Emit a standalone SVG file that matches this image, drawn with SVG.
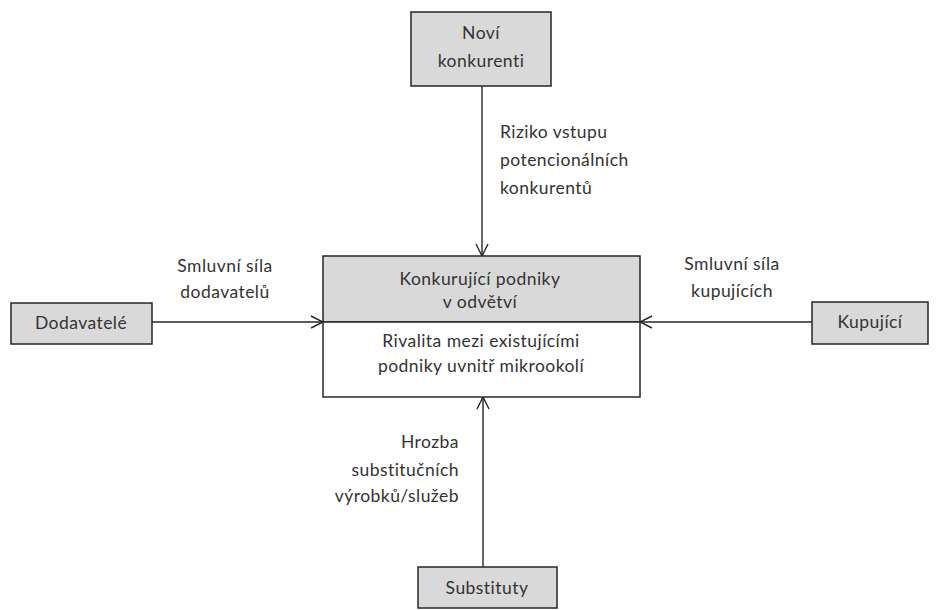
<svg xmlns="http://www.w3.org/2000/svg" width="940" height="610" viewBox="0 0 940 610">
<style>
.box{fill:#d9d9d9;stroke:#262626;stroke-width:1.5}
.wbox{fill:#ffffff;stroke:#262626;stroke-width:1.5}
.t{font-family:Lato,"Open Sans","Liberation Sans",sans-serif;font-size:17.5px;fill:#333333;letter-spacing:0.45px}
.c{text-anchor:middle}
.r{text-anchor:end}
.ln{stroke:#262626;stroke-width:1.4;fill:none}
</style>
<defs>
<marker id="ah" viewBox="0 0 14 14" refX="13" refY="7" markerWidth="14" markerHeight="14" markerUnits="userSpaceOnUse" orient="auto">
<path d="M1,1 L13,7 L1,13" fill="none" stroke="#262626" stroke-width="1.4"/>
</marker>
</defs>
<rect width="940" height="610" fill="#ffffff"/>
<g id="connectors">
<line class="ln" x1="482" y1="86" x2="482" y2="256" marker-end="url(#ah)"/>
<line class="ln" x1="152" y1="322" x2="323" y2="322" marker-end="url(#ah)"/>
<line class="ln" x1="812" y1="322" x2="640" y2="322" marker-end="url(#ah)"/>
<line class="ln" x1="483" y1="567" x2="483" y2="397" marker-end="url(#ah)"/>
<text class="t" x="500" y="138">Riziko vstupu</text>
<text class="t" x="500" y="166">potencionálních</text>
<text class="t" x="500" y="194">konkurentů</text>
<text class="t c" x="225" y="272">Smluvní síla</text>
<text class="t c" x="225" y="298">dodavatelů</text>
<text class="t c" x="732" y="270">Smluvní síla</text>
<text class="t c" x="732" y="297">kupujících</text>
<text class="t r" x="459" y="448">Hrozba</text>
<text class="t r" x="459" y="476">substitučních</text>
<text class="t r" x="459" y="502">výrobků/služeb</text>
</g>
<g id="novi">
<rect class="box" x="411" y="12" width="140" height="74"/>
<text class="t c" x="481" y="39">Noví</text>
<text class="t c" x="481" y="67">konkurenti</text>
</g>
<g id="center">
<rect class="box" x="323" y="256" width="317" height="66"/>
<rect class="wbox" x="323" y="322" width="317" height="75"/>
<text class="t c" x="480" y="285">Konkurující podniky</text>
<text class="t c" x="480" y="308">v odvětví</text>
<text class="t c" x="481" y="347">Rivalita mezi existujícími</text>
<text class="t c" x="481" y="372">podniky uvnitř mikrookolí</text>
</g>
<g id="dodavatele">
<rect class="box" x="11" y="303" width="141" height="41"/>
<text class="t c" x="81" y="329">Dodavatelé</text>
</g>
<g id="kupujici">
<rect class="box" x="812" y="302" width="116" height="42"/>
<text class="t c" x="870" y="328">Kupující</text>
</g>
<g id="substituty">
<rect class="box" x="418" y="567" width="139" height="41"/>
<text class="t c" x="487" y="594">Substituty</text>
</g>
</svg>
